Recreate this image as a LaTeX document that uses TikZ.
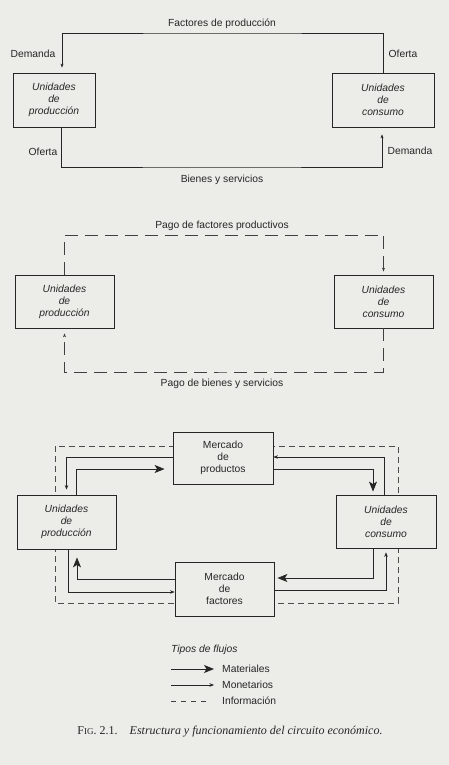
\documentclass[tikz,border=0pt]{standalone}
\usepackage{fontspec}
\setmainfont{Liberation Serif}
\setsansfont{Liberation Sans}
\usetikzlibrary{arrows.meta, positioning}
\definecolor{paper}{RGB}{236,236,232}
\newcommand{\diag}{\sffamily\fontsize{10.3}{12}\selectfont}

\begin{document}
\begin{tikzpicture}[
  x=1pt, y=-1pt,
  font=\diag,
  box/.style={
    draw=black!85,
    fill=paper,
    line width=0.8pt,
    align=center,
    inner sep=2pt,
    minimum width=99pt,
    minimum height=53pt,
    text=black!85,
  },
  agent/.style={box, font=\diag\itshape},
  lbl/.style={inner sep=0pt, text=black!85},
  plain/.style={draw=black!85, line width=0.6pt, -{Stealth[length=4pt, width=3pt]}},
  money/.style={draw=black!85, line width=0.6pt, -{Stealth[length=4.5pt, width=3.5pt]}},
  matter/.style={draw=black!85, line width=1pt, -{Stealth[length=10pt, width=8pt, inset=2.5pt]}},
  info/.style={draw=black!75, line width=0.6pt, dash pattern=on 13pt off 7pt,
    -{Stealth[length=4pt, width=3pt]}},
  frame/.style={draw=black!70, line width=0.5pt, dash pattern=on 6pt off 4pt},
]

\path[use as bounding box, fill=paper] (0,0) rectangle (449,765);

% ---- first circuit: real flows, supply and demand -------------------------
\node[agent, minimum width=82pt, minimum height=54pt] (prodA) at (54,100)
  {Unidades\\de\\producción};
\node[agent, minimum width=102pt, minimum height=54pt] (consA) at (383,100)
  {Unidades\\de\\consumo};

\coordinate (factA) at (222,33);
\coordinate (goodsA) at (222,167);

\draw[plain, shorten >=5pt] (consA.north) |- (factA) -| ([xshift=8pt]prodA.north);
\draw[plain, shorten >=7pt] ([xshift=7pt]prodA.south) |- (goodsA) -| ([xshift=-1pt]consA.south);

\node[lbl, above=4pt of factA] (factlbl) {Factores de producción};
\node[lbl, below=8pt of goodsA] (goodslbl) {Bienes y servicios};
\node[lbl] (demA) at (33,54) {Demanda};
\node[lbl] (offA) at (403,54) {Oferta};
\node[lbl] (offB) at (43,152) {Oferta};
\node[lbl] (demB) at (410,151) {Demanda};

% ---- second circuit: the money going the other way ------------------------
\node[agent] (prodB) at (64.5,301.5) {Unidades\\de\\producción};
\node[agent] (consB) at (383.5,301.5) {Unidades\\de\\consumo};

\coordinate (payF) at (222,235);
\coordinate (payG) at (222,372);

\draw[info, shorten >=3pt] (prodB.north) |- (payF) -| (consB.north);
\draw[info, shorten >=5pt] (consB.south) |- (payG) -| (prodB.south);

\node[lbl, above=4pt of payF] (payFlbl) {Pago de factores productivos};
\node[lbl, below=7pt of payG] (payGlbl) {Pago de bienes y servicios};

% ---- third circuit: both markets, information round the outside ----------
\coordinate (infoNW) at (55,446);
\coordinate (infoSE) at (398,603);
\draw[frame] (infoNW) rectangle (infoSE);

\node[box, minimum width=100pt, minimum height=52pt] (mprod) at (223,458)
  {Mercado\\de\\productos};
\node[agent, minimum height=54pt] (prodC) at (66.5,522) {Unidades\\de\\producción};
\node[agent, minimum width=100pt] (consC) at (386,521.5) {Unidades\\de\\consumo};
\node[box, minimum height=54pt] (mfact) at (224.5,589) {Mercado\\de\\factores};

% upper half
\draw[money, shorten >=5pt] ([yshift=1pt]mprod.west) -| (prodC.north);
\draw[matter, shorten >=8pt] ([xshift=9.5pt]prodC.north) |- ([yshift=-11pt]mprod.west);
\draw[matter, shorten >=3pt] ([yshift=-11pt]mprod.east) -| ([xshift=-13pt]consC.north);
\draw[money] ([xshift=-2pt]consC.north) |- ([yshift=1pt]mprod.east);
% lower half
\draw[money] ([xshift=1.5pt]prodC.south) |- ([yshift=-3pt]mfact.west);
\draw[matter, shorten >=8pt] ([yshift=10pt]mfact.west) -| ([xshift=10.5pt]prodC.south);
\draw[matter, shorten >=3pt] ([xshift=-13pt]consC.south) |- ([yshift=11pt]mfact.east);
\draw[money, shorten >=4pt] ([yshift=-1pt]mfact.east) -| (consC.south);

% ---- key ------------------------------------------------------------------
\node[lbl, anchor=west, font=\diag\itshape] (keytitle) at (171,650) {Tipos de flujos};
\node[lbl, anchor=west] (keymat) at (222,669) {Materiales};
\node[lbl, anchor=west] (keymon) at (222,685) {Monetarios};
\node[lbl, anchor=west] (keyinf) at (222,701) {Información};
\draw[matter] ([xshift=-51pt]keymat.west) -- ([xshift=-8pt]keymat.west);
\draw[money] ([xshift=-51pt]keymon.west) -- ([xshift=-8pt]keymon.west);
\draw[draw=black!75, line width=0.6pt, dash pattern=on 5pt off 5pt]
  ([xshift=-51pt]keyinf.west) -- ([xshift=-12pt]keyinf.west);

% ---- caption --------------------------------------------------------------
\node[lbl, font=\rmfamily\fontsize{12}{14}\selectfont] (caption) at (230,732)
  {F{\fontsize{9}{10}\selectfont IG}. 2.1.\quad\textit{Estructura y funcionamiento del circuito económico.}};

\end{tikzpicture}
\end{document}
